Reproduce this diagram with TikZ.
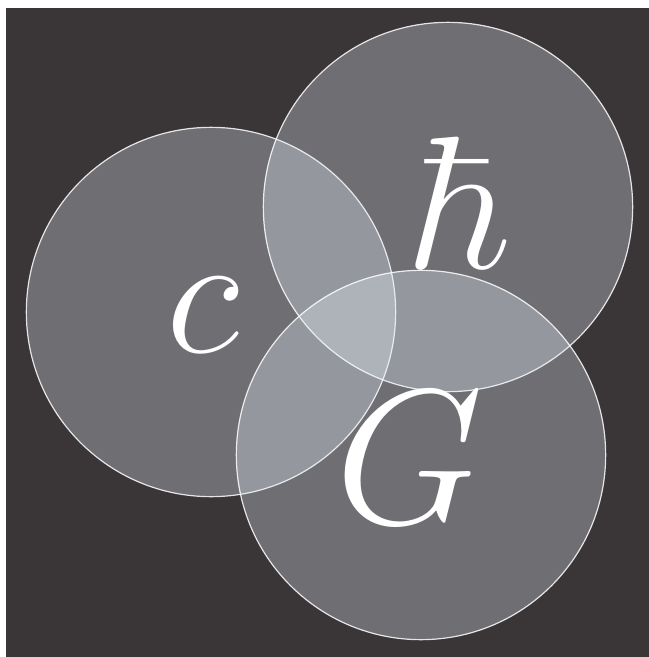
\RequirePackage{fix-cm}
\documentclass[tikz,border=0pt]{standalone}
\usetikzlibrary{positioning}
\definecolor{bgdark}{RGB}{58,53,54}
\definecolor{discfill}{RGB}{232,242,252}

\begin{document}
\begin{tikzpicture}[
  x=0.75pt, y=-0.75pt,
  disc/.style={circle, draw=white, draw opacity=0.85, line width=0.9pt,
               fill=discfill, fill opacity=0.31, minimum size=277pt, inner sep=0pt},
  letter/.style={text=white, inner sep=0pt},
]
\useasboundingbox (0,0) rectangle (649,657);
\fill[bgdark] (6,8) rectangle (649,657);

% three overlapping discs
\node[disc] (cdisc) at (211,312) {};
\node[disc] (hdisc) at (448,207) {};
\node[disc] (gdisc) at (421,455) {};

% the constants
\node[letter, font=\fontsize{130}{130}\selectfont] (clabel) at (203,315) {$c$};
\node[letter, font=\fontsize{142}{142}\selectfont] (hlabel) at (463,203) {$\hbar$};
\node[letter, font=\fontsize{144}{144}\selectfont] (glabel) at (410,458) {$G$};
\end{tikzpicture}
\end{document}
